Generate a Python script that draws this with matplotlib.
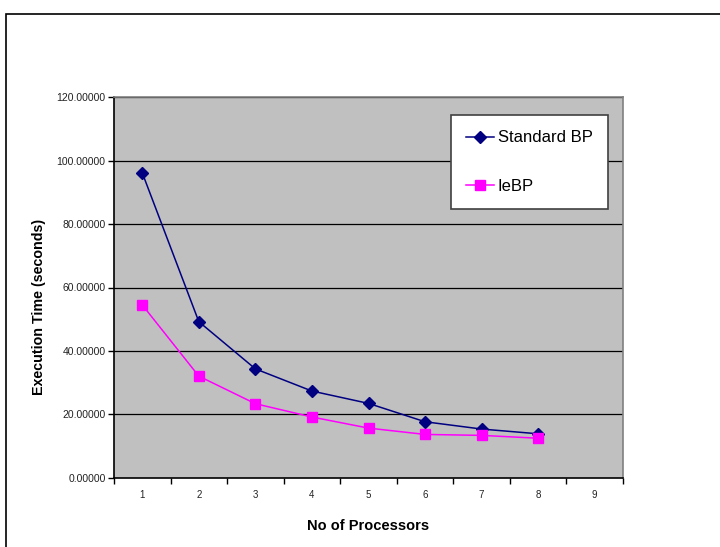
import numpy as np
import matplotlib.pyplot as plt

processors = [1, 2, 3, 4, 5, 6, 7, 8]
standard_bp = [96.2, 49.2, 34.3, 27.3, 23.4, 17.6, 15.3, 13.8]
iebp = [54.5, 32.0, 23.3, 19.1, 15.6, 13.6, 13.3, 12.4]
categories = [1, 2, 3, 4, 5, 6, 7, 8, 9]
y_ticks = [0, 20, 40, 60, 80, 100, 120]

plt.rcParams['font.family'] = ['Liberation Sans', 'DejaVu Sans']

fig = plt.figure(figsize=(7.2, 5.47), dpi=100)

# outer chart frame (right and bottom edges run off the picture)
fig.patches.append(plt.Rectangle((6 / 720, -0.05), 1.0, 1.05 - 14 / 547, transform=fig.transFigure,
                                 fill=False, edgecolor='black', linewidth=1.2))

ax = fig.add_axes([114 / 720, 1 - 477.5 / 547, 509 / 720, 380 / 547])
ax.set_facecolor('#C0C0C0')

# gridlines
for v in y_ticks[1:]:
    ax.axhline(v, color='black', linewidth=0.9, zorder=1)

ax.plot(processors, standard_bp, color='#000080', marker='D', markersize=6,
        linewidth=1.1, label='Standard BP', zorder=3)
ax.plot(processors, iebp, color='#FF00FF', marker='s', markersize=7.5,
        linewidth=1.1, label='IeBP', zorder=3)

ax.set_xlim(0.5, 9.5)
ax.set_ylim(0, 120)

# category axis: tick marks between categories, labels at centres
ax.set_xticks(np.arange(0.5, 10, 1.0))
ax.set_xticklabels([])
ax.set_xticks(categories, minor=True)
ax.set_xticklabels([str(c) for c in categories], minor=True, fontsize=7, color='#222222')
ax.tick_params(axis='x', which='major', direction='out', length=4, width=1)
ax.tick_params(axis='x', which='minor', length=0, pad=9)

ax.set_yticks(y_ticks)
ax.set_yticklabels(['%.5f' % v for v in y_ticks], fontsize=7.5, color='#222222')
ax.tick_params(axis='y', direction='out', length=4, width=1, pad=2)

for side in ['top', 'right']:
    ax.spines[side].set_color('#808080')
    ax.spines[side].set_linewidth(1.2)
for side in ['left', 'bottom']:
    ax.spines[side].set_color('black')
    ax.spines[side].set_linewidth(1.2)

ax.set_xlabel('No of Processors', fontsize=10.5, fontweight='bold', labelpad=14)
ax.set_ylabel('Execution Time (seconds)', fontsize=10.3, fontweight='bold')
ax.yaxis.set_label_coords(-0.134, 0.449)

leg = ax.legend(loc='upper left', bbox_to_anchor=(337 / 509, 1 - 18 / 380),
                frameon=True, fancybox=False, fontsize=12, handlelength=1.7,
                labelspacing=2.0, borderpad=0.9, handletextpad=0.2,
                borderaxespad=0)
leg.get_frame().set_edgecolor('#404040')
leg.get_frame().set_linewidth(1.2)
leg.get_frame().set_facecolor('white')
leg.get_frame().set_alpha(1)

plt.savefig('out.png', dpi=100)
